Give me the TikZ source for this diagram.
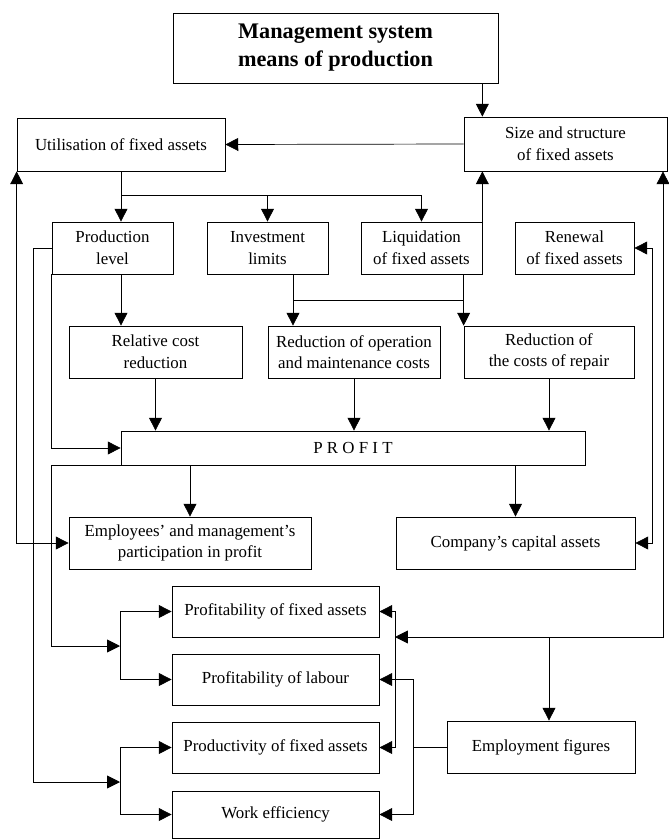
\documentclass[tikz,border=0pt]{standalone}
\usepackage{fontspec}
\setmainfont{Liberation Serif}
\usetikzlibrary{arrows.meta}
\begin{document}
\begin{tikzpicture}[x=0.03cm,y=-0.03cm,line width=0.6pt,
box/.style 2 args={draw, align=center, inner sep=0pt, minimum width=#1*0.03cm, minimum height=#2*0.03cm, font=\fontsize{14.4}{18.5}\selectfont},
arr/.style={-{Triangle[length=11pt,width=11pt]}},
arr2/.style={{Triangle[length=11pt,width=11pt]}-{Triangle[length=11pt,width=11pt]}}]
\useasboundingbox (0,0) rectangle (668,839);
\node[box={325}{70}, font=\fontsize{19}{24}\selectfont\bfseries] (top) at (335.5,48){Management system\\means of production};
\node[box={208}{53}] (util) at (121,144.5){Utilisation of fixed assets};
\node[box={203}{54}] (size) at (565.5,144){Size and structure\\of fixed assets};
\node[box={121}{52}] (prod) at (112.5,248){Production\\level};
\node[box={121}{52}] (inv) at (267.5,248){Investment\\limits};
\node[box={121}{52}] (liq) at (421.5,248){Liquidation\\of fixed assets};
\node[box={119}{52}] (ren) at (574.5,248){Renewal\\of fixed assets};
\node[box={173}{52}] (rel) at (155.5,352){Relative cost\\reduction};
\node[box={172}{52}] (oper) at (354,352){Reduction of operation\\and maintenance costs};
\node[box={170}{52}] (rep) at (549,352){Reduction of\\the costs of repair};
\node[box={464}{34}] (profit) at (353,448){P R O F I T};
\node[box={242}{52}] (emp) at (190,543){Employees' and management's\\participation in profit};
\node[box={239}{52}] (cap) at (515.5,543){Company's capital assets};
\node[box={207}{51}] (pfa) at (275.5,611.5){Profitability of fixed assets};
\node[box={207}{51}] (plab) at (275.5,679.5){Profitability of labour};
\node[box={207}{51}] (pfx) at (275.5,747.5){Productivity of fixed assets};
\node[box={207}{47}] (work) at (275.5,814.5){Work efficiency};
\node[box={188}{52}] (empf) at (541,747){Employment figures};
\coordinate (j0) at (121,195);
\coordinate (j1) at (293,300);
\coordinate (j2) at (120,646);
\coordinate (j3) at (120,782);
\coordinate (j4) at (395,637);
\coordinate (j5) at (663,637);
\coordinate (j6) at (413,747);
\draw[arr](top.south -| liq.east) -- (size.north -| liq.east);
\draw[arr](size.west) -- (util.east);
\draw[](util.south) -- (j0);
\draw[arr](j0) -- (j0 |- prod.north);
\draw[arr](j0) -| (inv.north);
\draw[arr](j0) -| (liq.north);
\draw[arr](liq.north east) -- (liq.north east |- size.south);
\draw[arr](j0 |- prod.south) -- (j0 |- rel.north);
\draw[](j1 |- inv.south) -- (j1) -- (j1 -| rep.west);
\draw[arr](j1) -- (j1 |- oper.north);
\draw[arr](rep.west |- liq.south) -- (rep.north west);
\draw[arr](rel.south) -- (rel.south |- profit.north);
\draw[arr](oper.south) -- (oper.south |- profit.north);
\draw[arr](rep.south) -- (rep.south |- profit.north);
\draw[arr](prod.south west) |- (profit.west);
\draw[arr](profit.south west) -- (prod.west |- profit.south) -- (prod.west |- j2) -- (j2);
\draw[arr](j2) |- (pfa.west);
\draw[arr](j2) |- (plab.west);
\draw[arr](profit.south -| emp.north) -- (emp.north);
\draw[arr](profit.south -| cap.north) -- (cap.north);
\draw[arr2](util.south west) |- (emp.west);
\draw[arr](prod.west) -- ++(-18,0) |- (j3);
\draw[arr](j3) |- (pfx.west);
\draw[arr](j3) |- (work.west);
\draw[arr2](ren.east) -- ++(18,0) |- (cap.east);
\draw[arr2](j5 |- size.south) -- (j5) -- (j4);
\draw[arr](j4) |- (pfa.east);
\draw[arr](j4) |- (pfx.east);
\draw[arr](rep.south |- j4) -- (rep.south |- empf.north);
\draw[](empf.west) -- (j6);
\draw[arr](j6) |- (plab.east);
\draw[arr](j6) |- (work.east);
\end{tikzpicture}
\end{document}
